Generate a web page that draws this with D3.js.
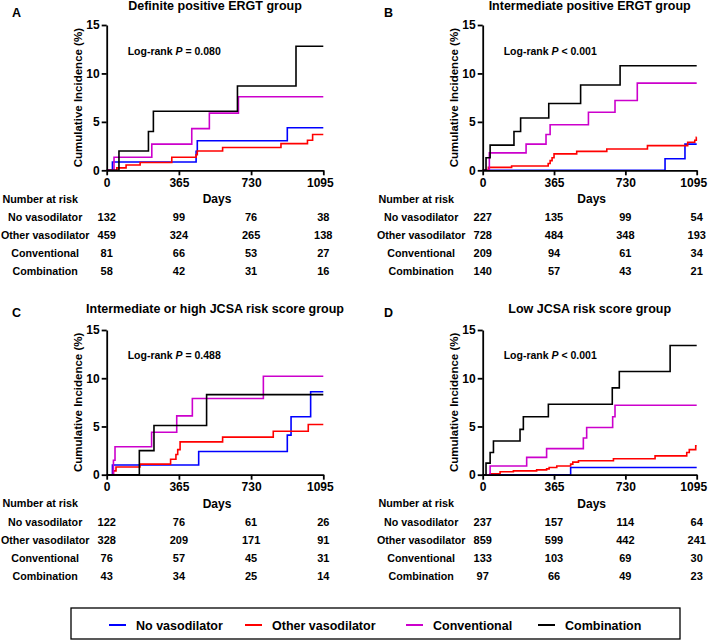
<!DOCTYPE html>
<html><head><meta charset="utf-8">
<script src="https://cdn.jsdelivr.net/npm/d3@7"></script>
<style>
body{margin:0;background:#fff}
svg text{font-family:"Liberation Sans",Arial,sans-serif;font-weight:bold;fill:#000}
</style></head><body>
<svg id="chart" width="709" height="642"></svg>
<script>
// ---------- data ----------
const groups = ["No vasodilator", "Other vasodilator", "Conventional", "Combination"];
const colors = ["#0000ff", "#ff0000", "#cc00cc", "#000000"];
const xTicks = [0, 365, 730, 1095];
const yTicks = [0, 5, 10, 15];
const maxDay = 1095;
const panelLetters = ["A", "B", "C", "D"];
const panelTitles = ["Definite positive ERGT group", "Intermediate positive ERGT group",
  "Intermediate or high JCSA risk score group", "Low JCSA risk score group"];
const pOperators = ["=", "<", "=", "<"];
const pValues = ["0.080", "0.001", "0.488", "0.001"];

// step events [day, cumulative incidence %]
const A_none = [[0,0],[29,0.85],[452,1.95],[458,3.05],[913,4.4]];
const A_other = [[0,0],[51,0.25],[98,0.55],[169,0.8],[329,1.35],[452,1.6],[458,2.0],[586,2.35],[881,2.75],[1015,3.1],[1041,3.7]];
const A_conv = [[0,0],[37,1.35],[228,2.7],[430,4.3],[519,5.9],[666,7.6]];
const A_comb = [[0,0],[62,2.0],[211,4.0],[236,6.1],[661,8.7],[957,12.8]];

const B_none = [[0,0],[933,1.2],[1035,2.7]];
const B_other = [[0,0],[29,0.3],[148,0.45],[335,0.7],[345,1.0],[355,1.3],[365,1.7],[481,1.95],[635,2.2],[843,2.55],[1049,2.9],[1085,3.1],[1093,3.4]];
const B_conv = [[0,0],[34,1.8],[222,2.7],[324,3.7],[345,4.7],[541,6.0],[677,7.2],[791,9.0]];
const B_comb = [[0,0],[17,1.3],[38,2.6],[160,4.0],[194,5.4],[338,6.9],[501,8.8],[703,10.8]];

const C_none = [[0,0],[29,1.0],[465,2.4],[913,4.1],[932,6.0],[1031,8.6]];
const C_other = [[0,0],[34,0.4],[47,0.8],[168,1.1],[323,1.6],[350,2.1],[359,2.6],[371,3.4],[586,3.9],[842,4.5],[1019,5.2]];
const C_conv = [[0,0],[34,1.5],[42,2.9],[227,4.4],[354,6.1],[433,7.9],[792,10.2]];
const C_comb = [[0,0],[165,2.5],[239,5.1],[505,8.3]];

const D_none = [[0,0],[450,0.75]];
const D_other = [[0,0],[38,0.1],[89,0.3],[157,0.4],[276,0.5],[327,0.6],[340,0.75],[379,0.9],[450,1.1],[461,1.3],[490,1.45],[669,1.65],[882,1.95],[1044,2.3],[1057,2.6],[1090,3.0]];
const D_conv = [[0,0],[38,0.9],[225,1.8],[327,2.7],[515,3.8],[532,4.9],[665,6.0],[677,7.2]];
const D_comb = [[0,0],[17,1.2],[38,2.3],[55,3.5],[191,4.7],[208,6.0],[336,7.3],[663,9.0],[699,10.7],[959,13.4]];

// number at risk (rows = groups, cols = xTicks)
const riskA = [[132,99,76,38],[459,324,265,138],[81,66,53,27],[58,42,31,16]];
const riskB = [[227,135,99,54],[728,484,348,193],[209,94,61,34],[140,57,43,21]];
const riskC = [[122,76,61,26],[328,209,171,91],[76,57,45,31],[43,34,25,14]];
const riskD = [[237,157,114,64],[859,599,442,241],[133,103,69,30],[97,66,49,23]];

const curveSets = [[A_none,A_other,A_conv,A_comb],[B_none,B_other,B_conv,B_comb],
                   [C_none,C_other,C_conv,C_comb],[D_none,D_other,D_conv,D_comb]];
const riskSets = [riskA, riskB, riskC, riskD];

// ---------- layout ----------
const layout = [
  {x0:106.7, x1:323.3, y0:170.3, y1:25, titleY:10, letterX:12, letterY:17, pY:55},
  {x0:482.7, x1:696.7, y0:170.3, y1:25, titleY:10, letterX:384, letterY:17, pY:55},
  {x0:106.7, x1:323.3, y0:474.7, y1:330, titleY:313, letterX:12, letterY:317, pY:359},
  {x0:482.7, x1:696.7, y0:474.7, y1:330, titleY:313, letterX:384, letterY:317, pY:359}
];

const svg = d3.select("#chart");

layout.forEach((L, i) => {
  const g = svg.append("g");
  const x = d3.scaleLinear().domain([0, maxDay]).range([L.x0, L.x1]);
  const y = d3.scaleLinear().domain([0, 15]).range([L.y0, L.y1]);

  // panel letter & title
  g.append("text").attr("x", L.letterX).attr("y", L.letterY).attr("font-size", 12.5).text(panelLetters[i]);
  g.append("text").attr("x", (L.x0 + L.x1) / 2).attr("y", L.titleY).attr("text-anchor", "middle")
    .attr("font-size", 12.5).text(panelTitles[i]);

  // curves
  const line = d3.line().x(d => x(d[0])).y(d => y(d[1])).curve(d3.curveStepAfter);
  curveSets[i].forEach((pts, k) => {
    const full = pts.concat([[maxDay, pts[pts.length - 1][1]]]);
    g.append("path").attr("d", line(full)).attr("fill", "none")
      .attr("stroke", colors[k]).attr("stroke-width", 1.6);
  });

  // axes
  const ax = g.append("g").attr("transform", `translate(0,${L.y0})`)
    .call(d3.axisBottom(x).tickValues(xTicks).tickSize(5).tickSizeOuter(0).tickPadding(3).tickFormat(d3.format("d")));
  const ay = g.append("g").attr("transform", `translate(${L.x0},0)`)
    .call(d3.axisLeft(y).tickValues(yTicks).tickSize(5).tickSizeOuter(0).tickPadding(2));
  [ax, ay].forEach(a => {
    a.selectAll("path,line").attr("stroke", "#000").attr("stroke-width", 1.8);
    a.selectAll("text").attr("font-size", 12).attr("font-family", null).style("font-weight", "bold");
  });
  // last x label sits slightly inward, as in the reference
  ax.selectAll(".tick text").filter(d => d === maxDay).attr("dx", -3.5);

  // y label
  g.append("text").attr("transform", `translate(${L.x0 - 25},${(L.y0 + L.y1) / 2}) rotate(-90)`)
    .attr("text-anchor", "middle").attr("font-size", 11.5).text("Cumulative Incidence (%)");

  // log-rank
  const pt = g.append("text").attr("x", L.x0 + 21).attr("y", L.pY).attr("font-size", 10.5);
  pt.append("tspan").text("Log-rank ");
  pt.append("tspan").attr("font-style", "italic").text("P");
  pt.append("tspan").text(" " + pOperators[i] + " " + pValues[i]);

  // risk table
  g.append("text").attr("x", (L.x0 + L.x1) / 2 + 2).attr("y", L.y0 + 33).attr("text-anchor", "middle")
    .attr("font-size", 12).text("Days");
  g.append("text").attr("x", L.x0 - 66.5).attr("y", L.y0 + 32.5).attr("text-anchor", "middle")
    .attr("font-size", 10.8).text("Number at risk");
  groups.forEach((name, r) => {
    const yy = L.y0 + 50.8 + 18 * r;
    g.append("text").attr("x", L.x0 - 61.5).attr("y", yy).attr("text-anchor", "middle")
      .attr("font-size", 10.7).text(name);
    riskSets[i][r].forEach((v, c) => {
      g.append("text").attr("x", x(xTicks[c])).attr("y", yy).attr("text-anchor", "middle")
        .attr("font-size", 11).text(v);
    });
  });
});

// legend
const legendX = [109, 245, 406, 538];
svg.append("rect").attr("x", 71).attr("y", 608).attr("width", 609).attr("height", 31)
  .attr("fill", "none").attr("stroke", "#000").attr("stroke-width", 1.3);
groups.forEach((name, k) => {
  svg.append("line").attr("x1", legendX[k]).attr("x2", legendX[k] + 17).attr("y1", 625).attr("y2", 625)
    .attr("stroke", colors[k]).attr("stroke-width", 2);
  svg.append("text").attr("x", legendX[k] + 27).attr("y", 629.5).attr("font-size", 12.5).text(name);
});
</script>
</body></html>
